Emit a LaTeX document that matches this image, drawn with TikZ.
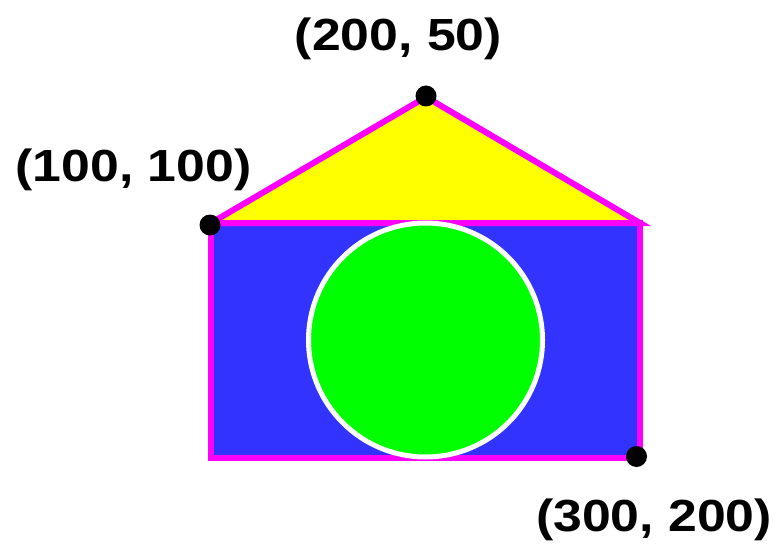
\documentclass[tikz,border=0pt]{standalone}
\usepackage{fontspec}
\setmainfont{Liberation Sans}
\usetikzlibrary{positioning}
\definecolor{roofyellow}{HTML}{FFFF00}
\definecolor{edgemagenta}{HTML}{FF00FF}
\definecolor{wallblue}{HTML}{3333FF}
\definecolor{discgreen}{HTML}{00FF00}

\begin{document}
\begin{tikzpicture}[x=1pt, y=-1pt]

% Define styles
\tikzstyle{wall} = [fill=wallblue, draw=edgemagenta, line width=6pt]
\tikzstyle{roof} = [fill=roofyellow, draw=edgemagenta, line width=6pt, line join=miter]
\tikzstyle{disc} = [fill=discgreen, draw=white, line width=5pt]
\tikzstyle{dot} = [circle, fill=black, inner sep=0pt, minimum size=21pt]
\tikzstyle{coordlabel} = [font=\fontsize{45}{50}\selectfont\bfseries, inner sep=0pt]

\useasboundingbox (0,0) rectangle (781,548);

% Corners
\coordinate (left) at (211,223);
\coordinate (apex) at (426,97);
\coordinate (right) at (640,223);
\coordinate (low) at (640,457.5);
\coordinate (mid) at (425.5,340);

% Shapes
\draw[wall] (left) rectangle (low);
\draw[roof] (left) -- (apex) -- (right) -- cycle;
\draw[disc] (mid) circle[radius=117pt];

% Points
\node[dot] (ptleft) at (210,225) {};
\node[dot] (pttop) at (426,96) {};
\node[dot] (ptlow) at (636.5,456.5) {};

% Labels
\node[coordlabel] (labtop) at (398.5,39) {\scalebox{1.15}[1]{(200, 50)}};
\node[coordlabel] (lableft) at (133.5,170) {\scalebox{1.15}[1]{(100, 100)}};
\node[coordlabel] (lablow) at (654,520) {\scalebox{1.15}[1]{(300, 200)}};

\end{tikzpicture}
\end{document}
